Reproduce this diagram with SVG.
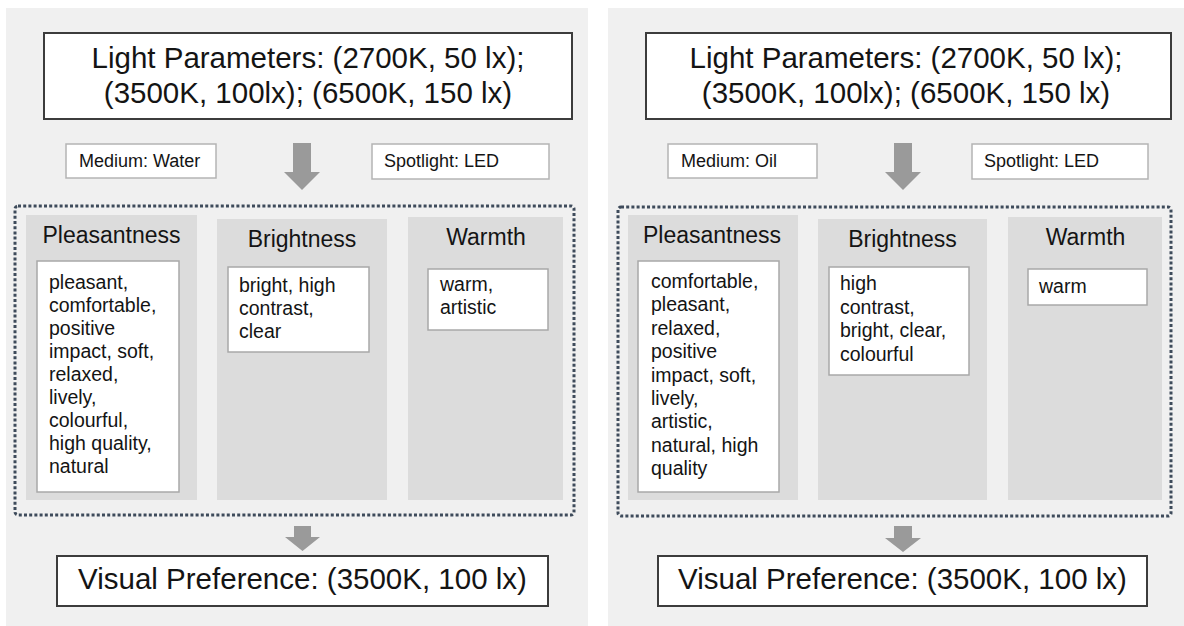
<svg xmlns="http://www.w3.org/2000/svg" width="1184" height="626" viewBox="0 0 1184 626">
<style>
text{font-family:"Liberation Sans",Arial,sans-serif;fill:#141414}
.panel{fill:#f0f0f0}
.big{fill:#fff;stroke:#3c3c3c;stroke-width:2}
.small{fill:#fff;stroke:#b4b4b4;stroke-width:1.5}
.col{fill:#dcdcdc}
.list{fill:#fff;stroke:#a8a8a8;stroke-width:1.5}
.dots{fill:none;stroke:#3e4b5b;stroke-width:3;stroke-dasharray:3 2.2}
.arrow{fill:#9a9a9a}
.t30{font-size:29.5px;text-anchor:middle}
.t18{font-size:18px}
.t23{font-size:23px;text-anchor:middle}
.t19{font-size:19.5px}
</style>
<rect class="panel" x="6" y="8" width="582" height="618"/>
<rect class="panel" x="608" y="8" width="576" height="618"/>

<!-- Left panel -->
<g id="L-light-params">
<rect class="big" x="44" y="33" width="528" height="86"/>
<text class="t30" x="308" y="68">Light Parameters: (2700K, 50 lx);</text>
<text class="t30" x="308" y="103">(3500K, 100lx); (6500K, 150 lx)</text>
</g>
<g id="L-medium">
<rect class="small" x="66" y="144" width="150" height="34"/>
<text class="t18" x="79" y="167">Medium: Water</text>
</g>
<g id="L-spotlight">
<rect class="small" x="372" y="144" width="177" height="35"/>
<text class="t18" x="384" y="167">Spotlight: LED</text>
</g>
<g id="L-attributes">
<rect class="dots" x="15" y="206" width="559" height="309" rx="3"/>
</g>
<g id="L-pleasantness">
<rect class="col" x="26" y="215" width="171" height="285"/>
<text class="t23" x="111.5" y="243">Pleasantness</text>
<rect class="list" x="37" y="261" width="142" height="231"/>
<text class="t19" x="49" y="289">pleasant,</text>
<text class="t19" x="49" y="312">comfortable,</text>
<text class="t19" x="49" y="335">positive</text>
<text class="t19" x="49" y="358">impact, soft,</text>
<text class="t19" x="49" y="381">relaxed,</text>
<text class="t19" x="49" y="404">lively,</text>
<text class="t19" x="49" y="427">colourful,</text>
<text class="t19" x="49" y="450">high quality,</text>
<text class="t19" x="49" y="473">natural</text>
</g>
<g id="L-brightness">
<rect class="col" x="217" y="219" width="170" height="281"/>
<text class="t23" x="302" y="247">Brightness</text>
<rect class="list" x="228" y="267" width="141" height="85"/>
<text class="t19" x="239" y="292">bright, high</text>
<text class="t19" x="239" y="315">contrast,</text>
<text class="t19" x="239" y="338">clear</text>
</g>
<g id="L-warmth">
<rect class="col" x="408" y="217" width="155" height="283"/>
<text class="t23" x="486" y="245">Warmth</text>
<rect class="list" x="428" y="269" width="120" height="61"/>
<text class="t19" x="440" y="291">warm,</text>
<text class="t19" x="440" y="314">artistic</text>
</g>
<g id="L-visual-preference">
<rect class="big" x="57" y="556" width="491" height="50"/>
<text class="t30" x="302.5" y="589">Visual Preference: (3500K, 100 lx)</text>
</g>

<!-- Right panel -->
<g id="R-light-params">
<rect class="big" x="646" y="33" width="525" height="86"/>
<text class="t30" x="906" y="68">Light Parameters: (2700K, 50 lx);</text>
<text class="t30" x="906" y="103">(3500K, 100lx); (6500K, 150 lx)</text>
</g>
<g id="R-medium">
<rect class="small" x="668" y="144" width="149" height="34"/>
<text class="t18" x="681" y="167">Medium: Oil</text>
</g>
<g id="R-spotlight">
<rect class="small" x="972" y="144" width="176" height="35"/>
<text class="t18" x="984" y="167">Spotlight: LED</text>
</g>
<g id="R-attributes">
<rect class="dots" x="618" y="207" width="553" height="309" rx="3"/>
</g>
<g id="R-pleasantness">
<rect class="col" x="628" y="215" width="170" height="285"/>
<text class="t23" x="712" y="243">Pleasantness</text>
<rect class="list" x="638" y="261" width="141" height="231"/>
<text class="t19" x="651" y="288">comfortable,</text>
<text class="t19" x="651" y="311.4">pleasant,</text>
<text class="t19" x="651" y="334.8">relaxed,</text>
<text class="t19" x="651" y="358.2">positive</text>
<text class="t19" x="651" y="381.6">impact, soft,</text>
<text class="t19" x="651" y="405">lively,</text>
<text class="t19" x="651" y="428.4">artistic,</text>
<text class="t19" x="651" y="451.8">natural, high</text>
<text class="t19" x="651" y="475.2">quality</text>
</g>
<g id="R-brightness">
<rect class="col" x="818" y="219" width="169" height="281"/>
<text class="t23" x="902.5" y="247">Brightness</text>
<rect class="list" x="829" y="267" width="140" height="108"/>
<text class="t19" x="840" y="290">high</text>
<text class="t19" x="840" y="313.5">contrast,</text>
<text class="t19" x="840" y="337">bright, clear,</text>
<text class="t19" x="840" y="360.5">colourful</text>
</g>
<g id="R-warmth">
<rect class="col" x="1008" y="217" width="154" height="283"/>
<text class="t23" x="1085.5" y="245">Warmth</text>
<rect class="list" x="1028" y="269" width="119" height="36"/>
<text class="t19" x="1039" y="293">warm</text>
</g>
<g id="R-visual-preference">
<rect class="big" x="658" y="556" width="489" height="50"/>
<text class="t30" x="902.5" y="589">Visual Preference: (3500K, 100 lx)</text>
</g>

<g id="connectors">
<polygon class="arrow" points="293,143 311,143 311,172 320,172 302,190 284,172 293,172"/>
<polygon class="arrow" points="294,526 311,526 311,537 320,537 302.5,551 285,537 294,537"/>
<polygon class="arrow" points="894,143 912,143 912,172 921,172 903,190 885,172 894,172"/>
<polygon class="arrow" points="894,526 912,526 912,538 921,538 903,552 885,538 894,538"/>
</g>
</svg>
